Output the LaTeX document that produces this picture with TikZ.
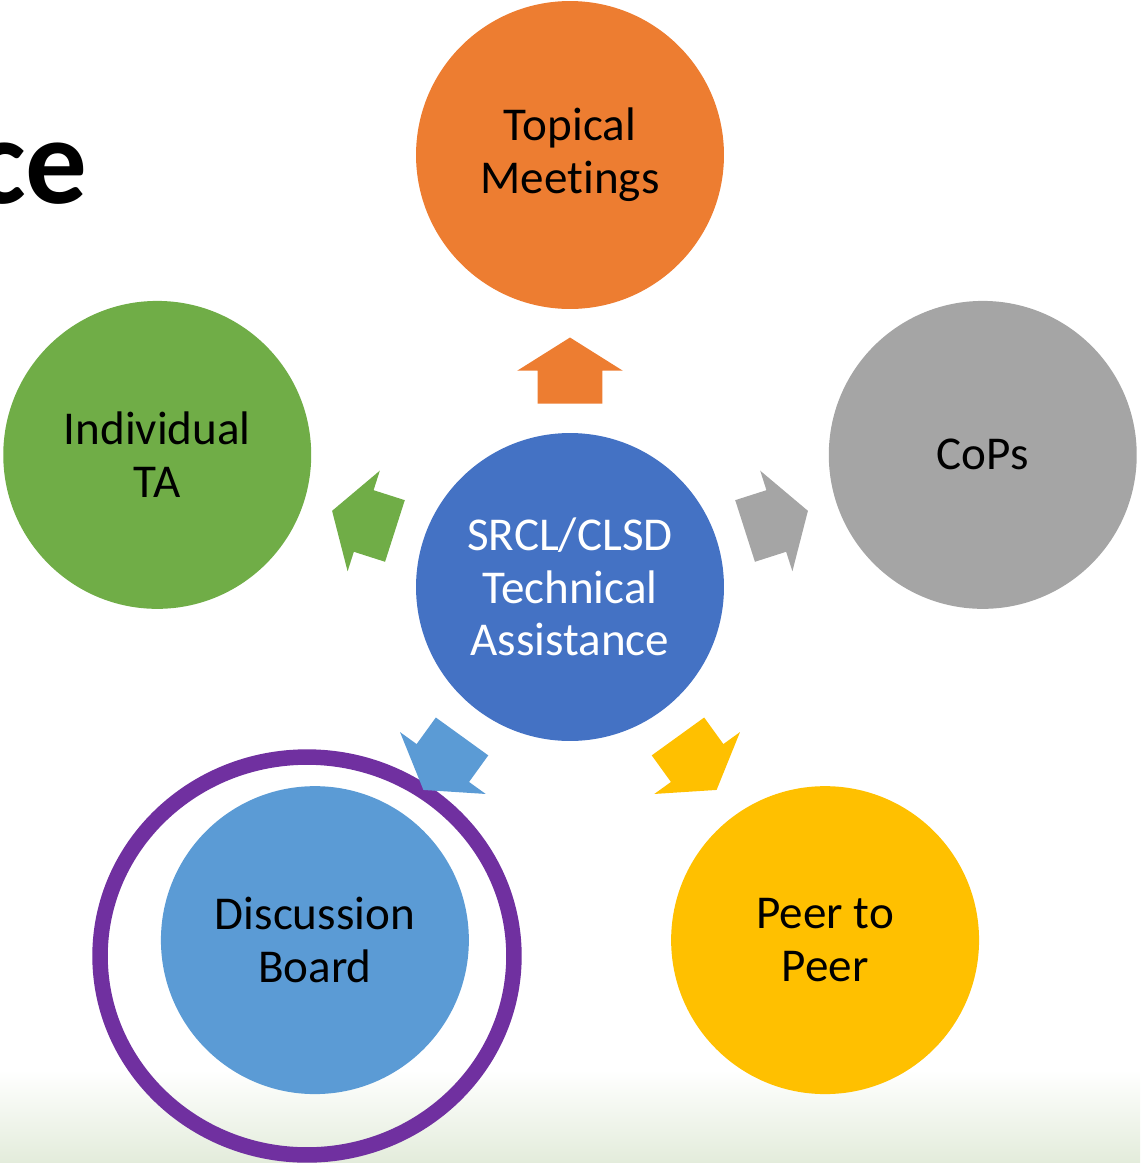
\documentclass[tikz,border=0pt]{standalone}
\usepackage{fontspec}
\setmainfont{Carlito}[Ligatures=NoCommon]
\usetikzlibrary{shapes.arrows}
\definecolor{taorange}{HTML}{ED7D31}
\definecolor{tagreen}{HTML}{70AD47}
\definecolor{tagray}{HTML}{A5A5A5}
\definecolor{tablue}{HTML}{4472C4}
\definecolor{talight}{HTML}{5B9BD5}
\definecolor{tayellow}{HTML}{FFC000}
\definecolor{tapurple}{HTML}{7030A0}
\definecolor{tabg}{HTML}{E3ECDB}
\tikzset{
    bubble/.style={circle, minimum size=6.16cm, inner sep=0pt, outer sep=0pt,
        align=center, font=\fontsize{26.8}{30}\selectfont},
    arrowbox/.style={single arrow, draw=none, inner sep=0pt, outer sep=0pt,
        text height=.64cm, text depth=.64cm, minimum height=1.32cm,
        single arrow head extend=.41cm, single arrow tip angle=115.7,
        sloped, allow upside down, anchor=tail, pos=.238}
}
\begin{document}
\begin{tikzpicture}[x=.02cm, y=.02cm]
\useasboundingbox (0,0) rectangle (1140,-1163);
\shade[top color=white, bottom color=tabg] (0,-1070) rectangle (1140,-1163);
\node[font=\fontsize{70}{72}\selectfont\bfseries, anchor=base east, inner sep=0pt] (title) at (88,-203) {ce};
% ring round the discussion board
\draw[tapurple, line width=.31cm] (307,-956) ellipse [x radius=4.14cm, y radius=3.98cm];
\begin{scope}[shift={(570,-589)}]
\node[bubble, fill=tablue, text=white] (hub) at (0,2) {SRCL/CLSD\\Technical\\Assistance};
\foreach \a/\n/\c/\t in {90/topical/taorange/{Topical\\Meetings},
    162/individual/tagreen/{Individual\\TA},
    18/cops/tagray/{CoPs},
    234/discussion/talight/{Discussion\\Board},
    306/peer/tayellow/{Peer to\\Peer}}{
    \node[bubble, fill=\c] (\n) at (\a:434) {\t};
    \path (hub) -- (\n) node[arrowbox, fill=\c] {};
}
\end{scope}
\end{tikzpicture}
\end{document}
